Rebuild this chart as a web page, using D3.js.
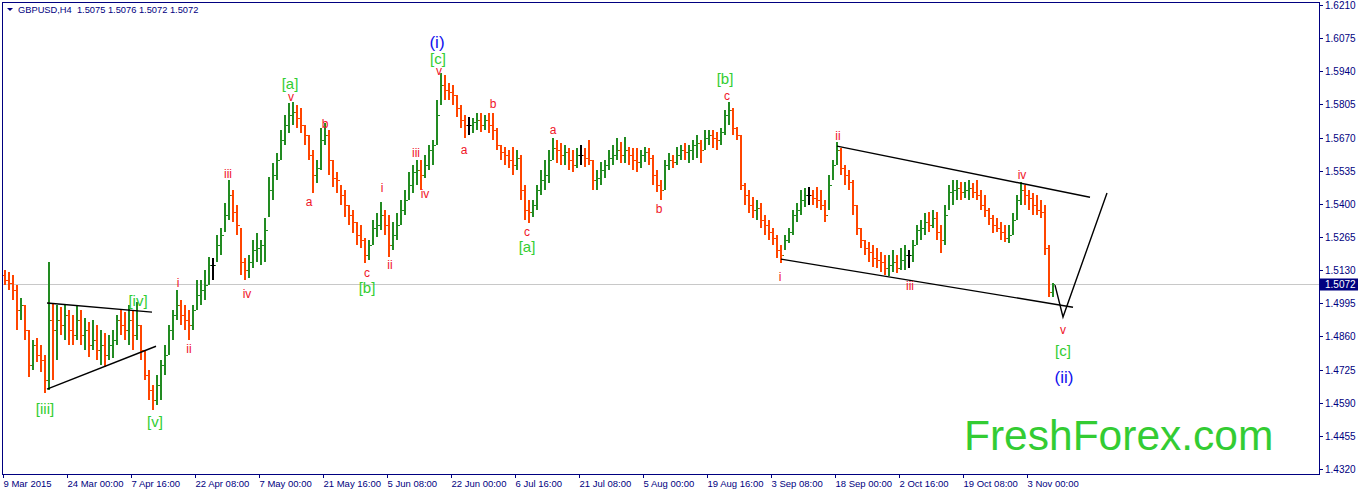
<!DOCTYPE html>
<html><head><meta charset="utf-8">
<script src="https://cdn.jsdelivr.net/npm/d3@7"></script>
<style>html,body{margin:0;padding:0;background:#fff;overflow:hidden}svg{display:block}</style>
</head><body><svg id="c" width="1358" height="492"></svg>
<script>
// ---------------- DATA ----------------
const symbolTitle = "GBPUSD,H4  1.5075 1.5076 1.5072 1.5072";
const timeLabels = ["9 Mar 2015","24 Mar 00:00","7 Apr 16:00","22 Apr 08:00","7 May 00:00","21 May 16:00","5 Jun 08:00","22 Jun 00:00","6 Jul 16:00","21 Jul 08:00","5 Aug 00:00","19 Aug 16:00","3 Sep 08:00","18 Sep 00:00","2 Oct 16:00","19 Oct 08:00","3 Nov 00:00"];
const timeLabelBars = [0,64,128,192,256,320,384,448,512,576,640,704,768,832,896,960,1024];
const priceTicks = [1.6210,1.6075,1.5940,1.5805,1.5670,1.5535,1.5400,1.5265,1.5130,1.4995,1.4860,1.4725,1.4590,1.4455,1.4320];
const lastPrice = 1.5072;
const firstOpen = 1.5110;
const barsPerUnit = 4; // each drawn bar groups 4 H4 bars

const highs = [
1.5130,1.5122,1.5110,1.5069,1.5016,1.4987,1.4886,1.4845,1.4853,1.4825,
1.4784,1.5163,1.4996,1.4987,1.4979,1.4987,1.4967,1.4947,1.4987,1.4967,
1.4935,1.4918,1.4926,1.4906,1.4886,1.4873,1.4865,1.4886,1.4947,1.4967,
1.4959,1.4987,1.4967,1.5000,1.4906,1.4804,1.4723,1.4662,1.4702,1.4763,
1.4825,1.4906,1.4967,1.5049,1.5008,1.4987,1.4967,1.4987,1.5089,1.5089,
1.5130,1.5183,1.5179,1.5273,1.5301,1.5403,1.5497,1.5456,1.5395,1.5301,
1.5179,1.5191,1.5252,1.5281,1.5252,1.5342,1.5509,1.5566,1.5607,1.5700,
1.5761,1.5810,1.5814,1.5802,1.5790,1.5721,1.5680,1.5619,1.5578,1.5709,
1.5729,1.5700,1.5578,1.5529,1.5476,1.5456,1.5395,1.5374,1.5326,1.5313,
1.5260,1.5252,1.5334,1.5362,1.5407,1.5374,1.5354,1.5326,1.5362,1.5415,
1.5456,1.5529,1.5558,1.5578,1.5578,1.5599,1.5639,1.5660,1.5823,1.5933,
1.5924,1.5892,1.5884,1.5843,1.5802,1.5761,1.5753,1.5749,1.5770,1.5770,
1.5761,1.5770,1.5770,1.5709,1.5639,1.5631,1.5619,1.5631,1.5619,1.5599,
1.5476,1.5415,1.5415,1.5476,1.5537,1.5578,1.5619,1.5668,1.5660,1.5647,
1.5639,1.5627,1.5619,1.5627,1.5639,1.5627,1.5660,1.5578,1.5537,1.5570,
1.5578,1.5619,1.5639,1.5668,1.5651,1.5672,1.5631,1.5627,1.5627,1.5619,
1.5631,1.5627,1.5599,1.5537,1.5497,1.5578,1.5607,1.5599,1.5631,1.5639,
1.5647,1.5639,1.5660,1.5680,1.5660,1.5700,1.5700,1.5700,1.5692,1.5709,
1.5782,1.5814,1.5790,1.5713,1.5680,1.5484,1.5456,1.5427,1.5415,1.5403,
1.5354,1.5334,1.5301,1.5273,1.5232,1.5273,1.5301,1.5374,1.5403,1.5456,
1.5464,1.5468,1.5456,1.5468,1.5456,1.5415,1.5517,1.5578,1.5651,1.5627,
1.5558,1.5537,1.5497,1.5395,1.5301,1.5252,1.5244,1.5232,1.5220,1.5203,
1.5191,1.5191,1.5211,1.5191,1.5220,1.5232,1.5211,1.5252,1.5313,1.5334,
1.5362,1.5366,1.5374,1.5366,1.5313,1.5395,1.5476,1.5497,1.5497,1.5489,
1.5489,1.5497,1.5484,1.5497,1.5456,1.5436,1.5383,1.5354,1.5342,1.5326,
1.5313,1.5313,1.5362,1.5436,1.5489,1.5476,1.5456,1.5444,1.5436,1.5415,
1.5395,1.5232,1.5076];

const lows = [
1.5069,1.5049,1.5008,1.4886,1.4926,1.4845,1.4694,1.4723,1.4755,1.4715,
1.4629,1.4641,1.4682,1.4763,1.4865,1.4845,1.4825,1.4825,1.4845,1.4825,
1.4804,1.4776,1.4804,1.4763,1.4743,1.4735,1.4763,1.4772,1.4825,1.4865,
1.4845,1.4825,1.4804,1.4845,1.4763,1.4682,1.4600,1.4560,1.4580,1.4600,
1.4702,1.4784,1.4845,1.4926,1.4906,1.4886,1.4845,1.4886,1.4967,1.4987,
1.5008,1.5069,1.5089,1.5163,1.5191,1.5285,1.5334,1.5326,1.5273,1.5110,
1.5089,1.5097,1.5138,1.5163,1.5150,1.5163,1.5346,1.5415,1.5497,1.5578,
1.5639,1.5688,1.5721,1.5709,1.5688,1.5639,1.5578,1.5444,1.5484,1.5537,
1.5639,1.5517,1.5468,1.5444,1.5395,1.5346,1.5313,1.5281,1.5232,1.5220,
1.5159,1.5171,1.5232,1.5264,1.5293,1.5273,1.5183,1.5211,1.5252,1.5313,
1.5354,1.5415,1.5444,1.5476,1.5456,1.5505,1.5537,1.5558,1.5639,1.5802,
1.5823,1.5823,1.5802,1.5753,1.5709,1.5668,1.5680,1.5688,1.5700,1.5692,
1.5700,1.5688,1.5660,1.5619,1.5578,1.5558,1.5546,1.5517,1.5537,1.5415,
1.5334,1.5321,1.5346,1.5374,1.5436,1.5456,1.5484,1.5578,1.5566,1.5558,
1.5558,1.5537,1.5529,1.5546,1.5558,1.5550,1.5558,1.5456,1.5456,1.5476,
1.5505,1.5537,1.5558,1.5578,1.5566,1.5566,1.5558,1.5537,1.5529,1.5546,
1.5570,1.5558,1.5476,1.5448,1.5415,1.5456,1.5537,1.5546,1.5558,1.5578,
1.5578,1.5566,1.5578,1.5586,1.5566,1.5619,1.5639,1.5627,1.5619,1.5639,
1.5680,1.5721,1.5680,1.5660,1.5456,1.5395,1.5362,1.5342,1.5334,1.5301,
1.5273,1.5252,1.5232,1.5179,1.5159,1.5211,1.5240,1.5273,1.5326,1.5354,
1.5387,1.5395,1.5395,1.5383,1.5374,1.5326,1.5374,1.5497,1.5558,1.5517,
1.5476,1.5456,1.5354,1.5273,1.5220,1.5191,1.5163,1.5142,1.5138,1.5122,
1.5110,1.5106,1.5122,1.5118,1.5130,1.5130,1.5138,1.5163,1.5232,1.5252,
1.5273,1.5285,1.5301,1.5252,1.5199,1.5232,1.5374,1.5395,1.5415,1.5415,
1.5423,1.5415,1.5423,1.5415,1.5374,1.5346,1.5313,1.5281,1.5285,1.5252,
1.5244,1.5240,1.5273,1.5334,1.5395,1.5395,1.5374,1.5354,1.5354,1.5342,
1.5191,1.5020,1.5020];

const closes = [
1.5089,1.5077,1.5049,1.4967,1.4987,1.4886,1.4743,1.4825,1.4784,1.4763,
1.4682,1.4926,1.4886,1.4926,1.4906,1.4947,1.4886,1.4865,1.4926,1.4865,
1.4886,1.4825,1.4845,1.4804,1.4825,1.4784,1.4825,1.4845,1.4926,1.4906,
1.4886,1.4926,1.4865,1.4906,1.4804,1.4702,1.4641,1.4600,1.4662,1.4743,
1.4784,1.4886,1.4947,1.4987,1.4947,1.4926,1.4906,1.4967,1.5028,1.5049,
1.5069,1.5150,1.5150,1.5232,1.5273,1.5354,1.5436,1.5366,1.5313,1.5163,
1.5130,1.5163,1.5211,1.5220,1.5232,1.5293,1.5456,1.5517,1.5578,1.5660,
1.5721,1.5761,1.5774,1.5749,1.5721,1.5680,1.5599,1.5517,1.5546,1.5660,
1.5680,1.5578,1.5505,1.5497,1.5436,1.5395,1.5354,1.5326,1.5273,1.5252,
1.5191,1.5232,1.5301,1.5313,1.5354,1.5313,1.5232,1.5273,1.5313,1.5374,
1.5415,1.5476,1.5529,1.5537,1.5517,1.5558,1.5619,1.5639,1.5761,1.5884,
1.5863,1.5855,1.5843,1.5790,1.5741,1.5721,1.5721,1.5733,1.5741,1.5721,
1.5741,1.5721,1.5700,1.5639,1.5611,1.5599,1.5578,1.5558,1.5586,1.5456,
1.5374,1.5366,1.5395,1.5456,1.5497,1.5517,1.5578,1.5627,1.5619,1.5599,
1.5611,1.5578,1.5558,1.5599,1.5599,1.5586,1.5578,1.5497,1.5505,1.5537,
1.5558,1.5586,1.5599,1.5619,1.5599,1.5619,1.5599,1.5578,1.5570,1.5599,
1.5611,1.5586,1.5517,1.5476,1.5456,1.5558,1.5578,1.5570,1.5599,1.5619,
1.5611,1.5619,1.5639,1.5647,1.5619,1.5668,1.5680,1.5668,1.5660,1.5692,
1.5761,1.5782,1.5709,1.5680,1.5476,1.5436,1.5395,1.5374,1.5383,1.5334,
1.5313,1.5285,1.5260,1.5211,1.5191,1.5252,1.5285,1.5354,1.5374,1.5415,
1.5436,1.5436,1.5423,1.5415,1.5395,1.5354,1.5476,1.5558,1.5619,1.5546,
1.5517,1.5489,1.5395,1.5301,1.5252,1.5220,1.5203,1.5179,1.5171,1.5163,
1.5138,1.5150,1.5163,1.5138,1.5171,1.5191,1.5191,1.5232,1.5293,1.5301,
1.5326,1.5313,1.5342,1.5285,1.5252,1.5354,1.5448,1.5456,1.5464,1.5448,
1.5456,1.5464,1.5448,1.5436,1.5395,1.5374,1.5342,1.5313,1.5301,1.5285,
1.5260,1.5273,1.5334,1.5415,1.5456,1.5436,1.5423,1.5395,1.5374,1.5366,
1.5220,1.5040,1.5072];

// wave labels: text, bar index (H4), price, kind
const waveLabels = [
 ["[iii]",42,1.4568,"g"],["[iv]",135,1.5008,"g"],["[v]",152,1.4515,"g"],
 ["i",175,1.5077,"r"],["ii",186,1.4808,"r"],["iii",225,1.5521,"r"],["iv",244,1.5032,"r"],
 ["[a]",287,1.5892,"g"],["v",288,1.5835,"r"],["a",306,1.5407,"r"],["b",322,1.5725,"r"],
 ["c",364,1.5118,"r"],["[b]",364,1.5061,"g"],["i",379,1.5464,"r"],["ii",387,1.5150,"r"],
 ["iii",413,1.5607,"r"],["iv",422,1.5440,"r"],
 ["(i)",434,1.6059,"b"],["[c]",435,1.5994,"g"],["v",436,1.5941,"r"],
 ["a",461,1.5619,"r"],["b",490,1.5806,"r"],["a",550,1.5700,"r"],
 ["c",524,1.5285,"r"],["[a]",524,1.5228,"g"],["b",656,1.5379,"r"],
 ["[b]",722,1.5912,"g"],["c",724,1.5839,"r"],["i",777,1.5102,"r"],["ii",835,1.5676,"r"],
 ["iii",907,1.5065,"r"],["iv",1019,1.5517,"r"],
 ["v",1060,1.4886,"r"],["[c]",1060,1.4804,"g"],["(ii)",1061,1.4694,"b"]
];
const triangleUpper = [[44,1.4996],[149,1.4959]];
const triangleLower = [[44,1.4645],[153,1.4820]];
const channelUpper = [[834,1.5635],[1087,1.5427]];
const channelLower = [[778,1.5175],[1070,1.4979]];
const projection = [[1052,1.5069],[1060,1.4939],[1104,1.5444]];
const watermark = "FreshForex.com";

// ---------------- DRAW ----------------
const W = 1358, H = 492;
const plotLeft = 2, plotRight = 1319, plotTop = 2, plotBottom = 474;
const FONT = "'Liberation Sans', Arial, sans-serif";
const NAVY = "#000080";
const svg = d3.select("#c");
svg.append("rect").attr("width",W).attr("height",H).attr("fill","#fff");

const x = d3.scaleLinear().domain([0, 1316]).range([3, 1319]);
const y = d3.scaleLinear().domain([1.4320, 1.6210]).range([469, 5]);

// watermark
svg.append("text").attr("x",964).attr("y",450).attr("font-family",FONT)
  .attr("font-size","42.5px").attr("fill","#33cc33").text(watermark);

// current price line
const yl = Math.round(y(lastPrice)) + 0.5;
svg.append("line").attr("x1",plotLeft).attr("x2",plotRight).attr("y1",yl).attr("y2",yl)
  .attr("stroke","#c8c8c8").attr("stroke-width",1);

// bars (OHLC style)
const units = closes.map((c,i)=>({
  i, o: i===0 ? firstOpen : closes[i-1], h: highs[i], l: lows[i], c
}));
const colorOf = d => d.c > d.o ? "#228b22" : (d.c < d.o ? "#ff4500" : "#000");
const bg = svg.append("g").attr("shape-rendering","crispEdges");
const ug = bg.selectAll("g").data(units).join("g").attr("fill", colorOf);
ug.append("rect")
  .attr("x", d => Math.round(x(d.i*barsPerUnit)) + 1)
  .attr("width", 2)
  .attr("y", d => Math.round(y(d.h)))
  .attr("height", d => Math.max(1, Math.round(y(d.l)) - Math.round(y(d.h))));
ug.append("rect")
  .attr("x", d => Math.round(x(d.i*barsPerUnit)))
  .attr("width", 1).attr("height", 1)
  .attr("y", d => Math.round(y(d.o)));
ug.append("rect")
  .attr("x", d => Math.round(x(d.i*barsPerUnit)) + 3)
  .attr("width", 1).attr("height", 1)
  .attr("y", d => Math.round(y(d.c)));

// lines
const line = d3.line().x(d=>x(d[0])).y(d=>y(d[1]));
[triangleUpper, triangleLower, channelUpper, channelLower, projection].forEach(pts=>{
  svg.append("path").attr("d",line(pts)).attr("fill","none")
    .attr("stroke","#000").attr("stroke-width",1.4);
});

// wave labels
const styleMap = {
  r: {size:"12px", fill:"#f01428"},
  g: {size:"15px", fill:"#32cd32"},
  b: {size:"17px", fill:"#1010ee"}
};
svg.append("g").selectAll("text").data(waveLabels).join("text")
  .attr("x", d => x(d[1])).attr("y", d => y(d[2]))
  .attr("text-anchor","middle").attr("dominant-baseline","central")
  .attr("font-family",FONT)
  .attr("font-size", d => styleMap[d[3]].size)
  .attr("fill", d => styleMap[d[3]].fill)
  .text(d => d[0]);

// frame
svg.append("rect").attr("x",plotLeft+0.5).attr("y",plotTop+0.5)
  .attr("width",plotRight-plotLeft).attr("height",plotBottom-plotTop)
  .attr("fill","none").attr("stroke",NAVY).attr("stroke-width",1);

// price axis
const pa = svg.append("g");
priceTicks.forEach(p=>{
  const yy = Math.round(y(p)) + 0.5;
  pa.append("line").attr("x1",plotRight).attr("x2",plotRight+4).attr("y1",yy).attr("y2",yy)
    .attr("stroke",NAVY);
  pa.append("text").attr("x",1325).attr("y",yy).attr("dominant-baseline","central")
    .attr("font-family",FONT).attr("font-size","10px").attr("fill",NAVY).text(p.toFixed(4));
});
// last price box
pa.append("rect").attr("x",1320).attr("y",yl-6).attr("width",38).attr("height",12).attr("fill",NAVY);
pa.append("text").attr("x",1325).attr("y",yl).attr("dominant-baseline","central")
  .attr("font-family",FONT).attr("font-size","10px").attr("fill","#fff").text(lastPrice.toFixed(4));

// time axis
const ta = svg.append("g");
timeLabels.forEach((t,k)=>{
  const xx = Math.round(x(timeLabelBars[k])) + 0.5;
  ta.append("line").attr("x1",xx).attr("x2",xx).attr("y1",plotBottom).attr("y2",plotBottom+4).attr("stroke",NAVY);
  ta.append("text").attr("x",xx).attr("y",487).attr("font-family",FONT)
    .attr("font-size","9.5px").attr("fill",NAVY).text(t);
});

// title
svg.append("path").attr("d","M7,8 L13,8 L10,11 Z").attr("fill",NAVY);
svg.append("text").attr("x",18).attr("y",10).attr("dominant-baseline","central")
  .attr("font-family",FONT).attr("font-size","9.3px").attr("fill",NAVY)
  .style("white-space","pre").text(symbolTitle);
</script></body></html>
